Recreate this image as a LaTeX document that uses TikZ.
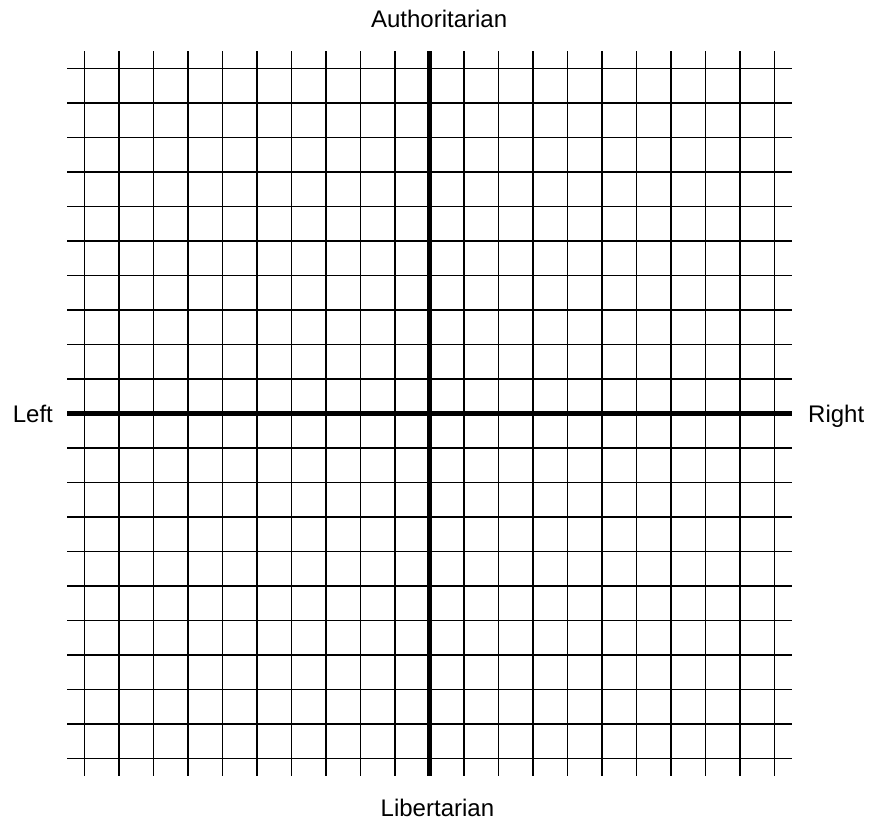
\documentclass[tikz,border=0pt]{standalone}
\usepackage{fontspec}
\setmainfont{Liberation Sans}

\begin{document}
\begin{tikzpicture}[x=34.5pt, y=34.5pt, every node/.style={font=\fontsize{24}{28}\selectfont, inner sep=0pt}, gridline/.style={line width=1.5pt}, axisline/.style={line width=4.4pt}]
	\useasboundingbox (-12.449,-11.875) rectangle (12.797,11.98);
	\foreach \i in {-10,...,10} {
		\draw[gridline] (\i,-10.5) -- (\i,10.5);
		\draw[gridline] (-10.5,\i) -- (10.5,\i);
	}
	\draw[axisline] (-10.5,0) -- (10.5,0);
	\draw[axisline] (0,-10.5) -- (0,10.5);
	\node[anchor=base] (auth) at (0.28,11.17) {Authoritarian};
	\node[anchor=base] (lib) at (0.23,-11.69) {Libertarian};
	\node[anchor=base east] (left) at (-10.91,-0.28) {Left};
	\node[anchor=base west] (right) at (10.97,-0.28) {Right};
\end{tikzpicture}
\end{document}
